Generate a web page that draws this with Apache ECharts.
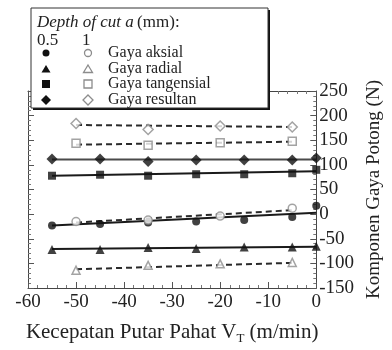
<!DOCTYPE html>
<html>
<head>
<meta charset="utf-8">
<script src="https://cdn.jsdelivr.net/npm/echarts@6/dist/echarts.min.js"></script>
<style>
  html, body { margin: 0; padding: 0; background: #fff; }
  #chart { width: 392px; height: 350px; }
</style>
</head>
<body>
<div id="chart"></div>
<script>
// data
const x05 = [-55, -45, -35, -25, -15, -5, 0]
const aksial05 = [-23, -20, -17, -15, -12, -6, 17]
const radial05 = [-72, -72, -68, -70, -67, -67, -65]
const tang05 = [78, 80, 78, 81, 81, 83, 90]
const result05 = [112, 112, 107, 110, 110, 110, 114]

const x1 = [-50, -35, -20, -5]
const aksial1 = [-15, -12, -4, 12]
const radial1 = [-114, -104, -101, -98]
const tang1 = [144, 140, 145, 148]
const result1 = [184, 172, 179, 177]

// trend lines
const fitX05 = [-55, 0]
const fitAksial05 = [-23, 3]
const fitRadial05 = [-71, -66]
const fitTang05 = [78, 87]
const fitResult05 = [111, 111]
const fitX1 = [-50, -5]
const fitAksial1 = [-17, 8]
const fitRadial1 = [-112, -99]
const fitTang1 = [141, 147]
const fitResult1 = [181, 177]

const xTicks = [-60, -50, -40, -30, -20, -10, 0]
const yTicks = [-150, -100, -50, 0, 50, 100, 150, 200, 250]

const FONT = 'Liberation Serif'
const INK = '#222'
const GREY = '#8c8c8c'

const pairs = (xs, ys) => xs.map((x, i) => [x, ys[i]])

const axisCommon = {
  axisLine: { show: true, onZero: false, lineStyle: { color: '#444', width: 1 } },
  axisTick: { show: true, inside: true, length: 6, lineStyle: { color: '#555' } },
  minorTick: { show: true, splitNumber: 5, length: 3, lineStyle: { color: '#777' } },
  splitLine: { show: false },
}

const solidMarks = (name, data, symbol, size) => ({
  name, type: 'scatter', data: data, symbol, symbolSize: size,
  itemStyle: { color: '#111' }, z: 5,
})
const openMarks = (name, data, symbol, size) => ({
  name, type: 'scatter', data: data, symbol, symbolSize: size,
  itemStyle: { color: '#fff', borderColor: GREY, borderWidth: 1.5 }, z: 5,
})
const fitLine = (data, dashed, color) => ({
  type: 'line', data: data, showSymbol: false, symbol: 'none',
  lineStyle: { color: color || '#1a1a1a', width: 2, type: dashed ? [6, 4] : 'solid' },
  z: 3, silent: true,
})

const chart = echarts.init(document.getElementById('chart'))

// legend box drawn by hand (two marker columns)
const legRows = ['Gaya aksial', 'Gaya radial', 'Gaya tangensial', 'Gaya resultan']
const legY = [53, 69, 84, 100]
const legendEls = [
  { type: 'rect', shape: { x: 33, y: 10, width: 237, height: 100 }, style: { fill: '#111' } },
  { type: 'rect', shape: { x: 31, y: 8, width: 237, height: 100 }, style: { fill: '#fff', stroke: '#333', lineWidth: 1 } },
  { type: 'text', x: 37, y: 23, style: {
      text: '{i|Depth of cut a} {n|(mm):}', verticalAlign: 'middle',
      rich: {
        i: { fontFamily: FONT, fontStyle: 'italic', fontSize: 17, fill: INK },
        n: { fontFamily: FONT, fontSize: 17, fill: INK },
      } } },
  { type: 'text', x: 37, y: 41, style: { text: '0.5', font: '17px ' + FONT, fill: INK, verticalAlign: 'middle' } },
  { type: 'text', x: 82, y: 41, style: { text: '1', font: '17px ' + FONT, fill: INK, verticalAlign: 'middle' } },
]
legRows.forEach((t, i) => {
  legendEls.push({ type: 'text', x: 108, y: legY[i], style: { text: t, font: '16px ' + FONT, fill: INK, verticalAlign: 'middle' } })
})
const mk = (kind, cx, cy, filled) => {
  const st = filled ? { fill: '#111' } : { fill: '#fff', stroke: GREY, lineWidth: 1.3 }
  if (kind === 0) return { type: 'circle', shape: { cx, cy, r: 3.5 }, style: st }
  if (kind === 1) return { type: 'polygon', shape: { points: [[cx, cy - 4], [cx + 4.5, cy + 3.5], [cx - 4.5, cy + 3.5]] }, style: st }
  if (kind === 2) return { type: 'rect', shape: { x: cx - 4, y: cy - 4, width: 8, height: 8 }, style: st }
  return { type: 'polygon', shape: { points: [[cx, cy - 5], [cx + 5, cy], [cx, cy + 5], [cx - 5, cy]] }, style: st }
}
for (let k = 0; k < 4; k++) {
  legendEls.push(mk(k, 46, legY[k], true))
  legendEls.push(mk(k, 88, legY[k], false))
}
legendEls.forEach(el => { el.z = 100; el.zlevel = 1 })

chart.setOption({
  animation: false,
  backgroundColor: '#fff',
  grid: { left: 28, right: 62, top: 91, bottom: 53 },
  xAxis: [
    Object.assign({}, axisCommon, {
      type: 'value', position: 'bottom', min: -60, max: 0, interval: 10,
      axisLabel: { fontFamily: FONT, fontSize: 19, color: INK, margin: 5,
        formatter: v => xTicks.includes(v) ? String(v) : '' },
      name: '{a|Kecepatan Putar Pahat V}{s|T}{a| (m/min)}',
      nameLocation: 'middle', nameGap: 32,
      nameTextStyle: {
        rich: {
          a: { fontFamily: FONT, fontSize: 21, color: INK },
          s: { fontFamily: FONT, fontSize: 13, color: INK, verticalAlign: 'bottom', padding: [12, 0, 0, 0] },
        },
      },
    }),
    Object.assign({}, axisCommon, {
      type: 'value', position: 'top', min: -60, max: 0, interval: 10,
      axisLabel: { show: false },
    }),
  ],
  yAxis: [
    Object.assign({}, axisCommon, {
      type: 'value', position: 'right', min: -150, max: 250, interval: 50,
      axisLabel: { fontFamily: FONT, fontSize: 19, color: INK, margin: 3,
        formatter: v => yTicks.includes(v) ? String(v) : '' },
      name: 'Komponen Gaya Potong (N)',
      nameLocation: 'middle', nameGap: 48, nameRotate: 90,
      nameTextStyle: { fontFamily: FONT, fontSize: 19, color: INK },
    }),
    Object.assign({}, axisCommon, {
      type: 'value', position: 'left', min: -150, max: 250, interval: 50,
      axisLabel: { show: false },
    }),
  ],
  graphic: legendEls,
  series: [
    fitLine(pairs(fitX05, fitAksial05), false),
    fitLine(pairs(fitX05, fitRadial05), false),
    fitLine(pairs(fitX05, fitTang05), false),
    fitLine(pairs(fitX05, fitResult05), false, '#4a4a4a'),
    fitLine(pairs(fitX1, fitAksial1), true, '#2a2a2a'),
    fitLine(pairs(fitX1, fitRadial1), true, '#2a2a2a'),
    fitLine(pairs(fitX1, fitTang1), true, '#2a2a2a'),
    fitLine(pairs(fitX1, fitResult1), true, '#2a2a2a'),
    solidMarks('Gaya aksial 0.5', pairs(x05, aksial05), 'circle', 8),
    solidMarks('Gaya radial 0.5', pairs(x05, radial05), 'triangle', 9),
    solidMarks('Gaya tangensial 0.5', pairs(x05, tang05), 'rect', 8),
    solidMarks('Gaya resultan 0.5', pairs(x05, result05), 'diamond', 11),
    openMarks('Gaya aksial 1', pairs(x1, aksial1), 'circle', 8),
    openMarks('Gaya radial 1', pairs(x1, radial1), 'triangle', 8),
    openMarks('Gaya tangensial 1', pairs(x1, tang1), 'rect', 8),
    openMarks('Gaya resultan 1', pairs(x1, result1), 'diamond', 10),
  ],
})
</script>
</body>
</html>
